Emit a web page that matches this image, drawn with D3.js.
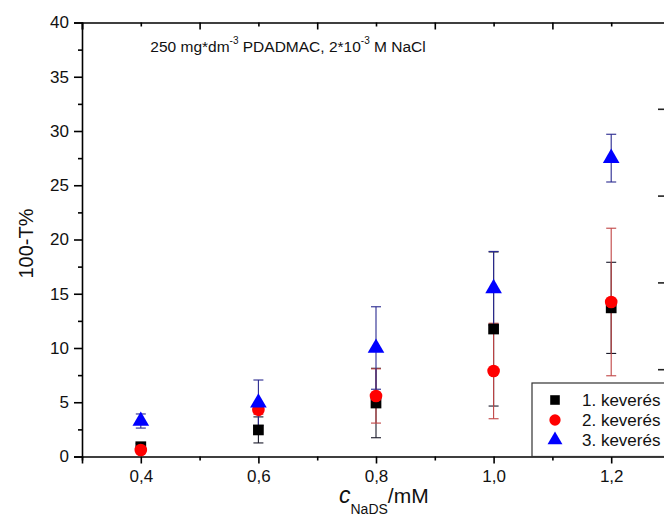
<!DOCTYPE html>
<html>
<head>
<meta charset="utf-8">
<script src="https://cdn.jsdelivr.net/npm/d3@7"></script>
<style>
  body { margin: 0; background: #fff; }
  svg { font-family: "Liberation Sans", Arial, sans-serif; }
</style>
</head>
<body>
<svg id="chart" width="664" height="518"></svg>
<script>
// adatok - NaDS koncentráció (mM)
const concentrations = [0.4, 0.6, 0.8, 1.0, 1.2]

const mix1 = [0.9, 2.45, 4.93, 11.75, 13.7]
const err1 = [0.3, 1.2, 3.2, 7.1, 4.2]

const mix2 = [0.6, 4.3, 5.58, 7.88, 14.24]
const err2 = [0.3, 0.4, 2.5, 4.4, 6.8]

const mix3 = [3.27, 4.95, 10.0, 15.5, 27.5]
const err3 = [0.65, 2.1, 3.8, 3.4, 2.2]

const seriesNames = ["1. keverés", "2. keverés", "3. keverés"]
const yTicks = [0, 5, 10, 15, 20, 25, 30, 35, 40]
const yMinor = [2.5, 7.5, 12.5, 17.5, 22.5, 27.5, 32.5, 37.5]
const xTicks = [0.4, 0.6, 0.8, 1.0, 1.2]
const xMinor = [0.3, 0.5, 0.7, 0.9, 1.1]
const rightTicks = [8, 16, 24, 32]

const series = [
    {name: seriesNames[0], values: mix1, err: err1, fill: "#000000", bar: "#1a1a2a", shape: d3.symbolSquare},
    {name: seriesNames[1], values: mix2, err: err2, fill: "#ff0000", bar: "#c04545", shape: d3.symbolCircle},
    {name: seriesNames[2], values: mix3, err: err3, fill: "#0000ff", bar: "#2a2a90", shape: d3.symbolTriangle}
]

let svg = d3.select("#chart")

attr_area = {
    left: 82,
    top: 22.5,
    bottom: 456.5,
    right: 670
}

let scaleX = d3.scaleLinear()
    .domain([0.3, 1.3])
    .range([attr_area.left, attr_area.right])

let scaleY = d3.scaleLinear()
    .domain([0, 40])
    .range([attr_area.bottom, attr_area.top])

const fmt = d => d3.format(".1f")(d).replace(".", ",")

// alsó tengely
let axisX = d3.axisBottom(scaleX)
    .tickValues(xTicks)
    .tickSize(7)
    .tickPadding(6)
    .tickFormat(fmt)

svg.append("g")
    .attr("transform", `translate(0, ${attr_area.bottom})`)
    .call(axisX)
    .call(g => g.select(".domain").attr("stroke-width", 1.6))
    .call(g => g.selectAll(".tick line").attr("stroke-width", 1.6))
    .selectAll("text")
    .style("font-size", "17px")
    .style("fill", "#111")

svg.append("g")
    .attr("transform", `translate(0, ${attr_area.bottom})`)
    .call(d3.axisBottom(scaleX).tickValues(xMinor).tickSize(4).tickFormat(""))
    .call(g => g.select(".domain").remove())
    .call(g => g.selectAll(".tick line").attr("stroke-width", 1.6))

// felső tengely (befelé mutató jelölők)
svg.append("g")
    .attr("transform", `translate(0, ${attr_area.top})`)
    .call(d3.axisBottom(scaleX).tickValues(xMinor).tickSize(7).tickFormat(""))
    .call(g => g.select(".domain").attr("stroke-width", 1.6))
    .call(g => g.selectAll(".tick line").attr("stroke-width", 1.6))

svg.append("g")
    .attr("transform", `translate(0, ${attr_area.top})`)
    .call(d3.axisBottom(scaleX).tickValues(xTicks).tickSize(4).tickFormat(""))
    .call(g => g.select(".domain").remove())
    .call(g => g.selectAll(".tick line").attr("stroke-width", 1.6))

// bal tengely
let axisY = d3.axisLeft(scaleY)
    .tickValues(yTicks)
    .tickSize(8)
    .tickPadding(5)
    .tickFormat(d3.format("d"))

svg.append("g")
    .attr("transform", `translate(${attr_area.left}, 0)`)
    .call(axisY)
    .call(g => g.select(".domain").attr("stroke-width", 1.6))
    .call(g => g.selectAll(".tick line").attr("stroke-width", 1.6))
    .selectAll("text")
    .style("font-size", "17px")
    .style("fill", "#111")

svg.append("g")
    .attr("transform", `translate(${attr_area.left}, 0)`)
    .call(d3.axisLeft(scaleY).tickValues(yMinor).tickSize(4).tickFormat(""))
    .call(g => g.select(".domain").remove())
    .call(g => g.selectAll(".tick line").attr("stroke-width", 1.6))

// jobb szélen látszó jelölők
svg.append("g")
    .selectAll("line")
    .data(rightTicks)
    .enter()
    .append("line")
    .attr("x1", 658)
    .attr("x2", 664)
    .attr("y1", d => scaleY(d))
    .attr("y2", d => scaleY(d))
    .attr("stroke", "#222")
    .attr("stroke-width", 1.6)

// tengelyfeliratok
svg.append("text")
    .attr("transform", `translate(33, ${(attr_area.top + attr_area.bottom) / 2 + 4}) rotate(-90)`)
    .attr("text-anchor", "middle")
    .style("font-size", "20px")
    .style("fill", "#111")
    .text("100-T%")

let xLabel = svg.append("text")
    .attr("x", 339)
    .attr("y", 503)
    .style("fill", "#111")
xLabel.append("tspan").style("font-style", "italic").style("font-size", "23px").text("c")
xLabel.append("tspan").attr("dy", 11).style("font-size", "14px").text("NaDS")
xLabel.append("tspan").attr("dy", -11).style("font-size", "21px").text("/mM")

// cím
let title = svg.append("text")
    .attr("x", 288)
    .attr("y", 52)
    .attr("text-anchor", "middle")
    .style("font-size", "15.5px")
    .style("fill", "#111")
title.append("tspan").text("250 mg*dm")
title.append("tspan").attr("dy", -8).style("font-size", "10px").text("-3")
title.append("tspan").attr("dy", 8).text(" PDADMAC, 2*10")
title.append("tspan").attr("dy", -8).style("font-size", "10px").text("-3")
title.append("tspan").attr("dy", 8).text(" M NaCl")

// hibasávok
const capW = 5
series.forEach(s => {
    let g = svg.append("g")
    let rows = concentrations.map((c, i) => ({x: c, y: s.values[i], e: s.err[i]}))
    g.selectAll(".bar")
        .data(rows)
        .enter()
        .append("line")
        .attr("x1", d => scaleX(d.x))
        .attr("x2", d => scaleX(d.x))
        .attr("y1", d => scaleY(d.y - d.e))
        .attr("y2", d => scaleY(d.y + d.e))
        .attr("stroke", s.bar)
        .attr("stroke-width", 1.1)
    ;[1, -1].forEach(sign => {
        g.selectAll(".cap" + sign)
            .data(rows)
            .enter()
            .append("line")
            .attr("x1", d => scaleX(d.x) - capW)
            .attr("x2", d => scaleX(d.x) + capW)
            .attr("y1", d => scaleY(d.y + sign * d.e))
            .attr("y2", d => scaleY(d.y + sign * d.e))
            .attr("stroke", s.bar)
            .attr("stroke-width", 1.1)
    })
})

// jelölők
const symSize = [115, 125, 120]
series.forEach((s, k) => {
    svg.append("g")
        .selectAll("path")
        .data(concentrations.map((c, i) => ({x: c, y: s.values[i]})))
        .enter()
        .append("path")
        .attr("d", d3.symbol().type(s.shape).size(symSize[k]))
        .attr("transform", d => `translate(${scaleX(d.x)}, ${scaleY(d.y)})`)
        .style("fill", s.fill)
})

// jelmagyarázat
let legend = svg.append("g")
legend.append("rect")
    .attr("x", 532)
    .attr("y", 383)
    .attr("width", 160)
    .attr("height", attr_area.bottom - 383)
    .style("fill", "#fff")
    .style("stroke", "#333")
    .style("stroke-width", 1.2)

series.forEach((s, k) => {
    let y = 400 + k * 20
    legend.append("path")
        .attr("d", d3.symbol().type(s.shape).size(symSize[k] * 0.8))
        .attr("transform", `translate(555, ${y})`)
        .style("fill", s.fill)
    legend.append("text")
        .attr("x", 582)
        .attr("y", y + 6)
        .style("font-size", "17px")
        .style("fill", "#111")
        .text(s.name)
})
</script>
</body>
</html>
